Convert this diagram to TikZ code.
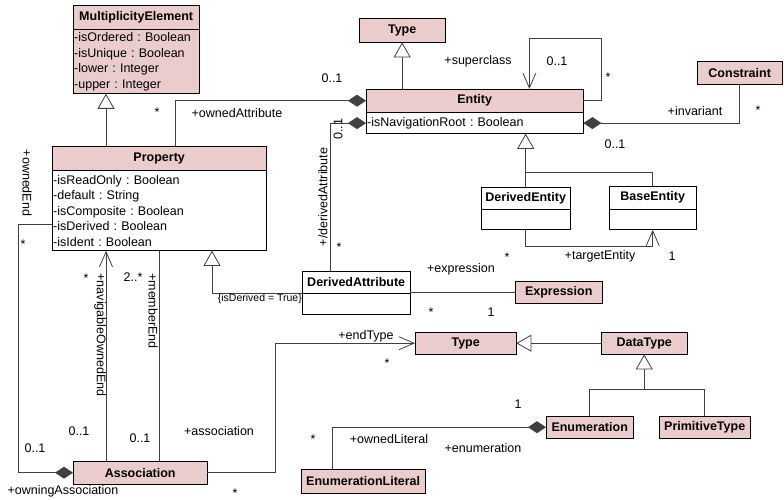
\documentclass[tikz,border=0pt]{standalone}
\usepackage{fontspec}
\setmainfont{Liberation Sans}
\usetikzlibrary{arrows.meta,positioning}

\definecolor{classpink}{RGB}{235,204,204}

\tikzset{
  classhead/.style={draw, fill=classpink, font=\fontsize{12.5}{15.5}\selectfont\bfseries,
    inner sep=0pt, anchor=north west},
  classbody/.style={draw, fill=white, anchor=north, inner xsep=1pt, inner ysep=0pt, align=left},
  lbl/.style={inner sep=0pt},
  tag/.style={inner sep=0pt, font=\fontsize{10.5}{12}\selectfont},
  conn/.style={draw=black!75, line width=0.8pt},
  gen/.style={conn, -{Triangle[open,length=15pt,width=17pt]}},
  nav/.style={conn, -{Straight Barb[length=15pt,width=13pt]}},
  comp/.style={conn, -{Diamond[length=18pt,width=12pt]}},
}

\begin{document}
\frenchspacing
\begin{tikzpicture}[x=1pt,y=-1pt,font=\fontsize{12.5}{15.5}\selectfont]
  \useasboundingbox (0,0) rectangle (784,500);

  % classes
  \node[classhead, minimum width=126, minimum height=24] (mult) at (73,5) {MultiplicityElement};
  \node[classbody, fill=classpink, text width=124pt, minimum height=64] (multAttr) at (mult.south)
    {-isOrdered : Boolean\\-isUnique : Boolean\\-lower : Integer\\-upper : Integer};

  \node[classhead, minimum width=86, minimum height=24] (typeTop) at (359,18) {Type};

  \node[classhead, minimum width=217, minimum height=23] (entity) at (366,89) {Entity};
  \node[classbody, text width=215pt, minimum height=21] (entityAttr) at (entity.south)
    {-isNavigationRoot : Boolean};

  \node[classhead, minimum width=85, minimum height=23] (constraint) at (697,61) {Constraint};

  \node[classhead, minimum width=214, minimum height=24] (prop) at (52,146) {Property};
  \node[classbody, text width=212pt, minimum height=80] (propAttr) at (prop.south)
    {-isReadOnly : Boolean\\-default : String\\-isComposite : Boolean\\-isDerived : Boolean\\-isIdent : Boolean};

  \node[classhead, fill=white, minimum width=89, minimum height=22] (dentity) at (481,187) {DerivedEntity};
  \node[classbody, text width=87pt, minimum height=20] (dentityAttr) at (dentity.south) {};

  \node[classhead, fill=white, minimum width=87, minimum height=23] (bentity) at (609,186) {BaseEntity};
  \node[classbody, text width=85pt, minimum height=20] (bentityAttr) at (bentity.south) {};

  \node[classhead, fill=white, minimum width=108, minimum height=22] (dattr) at (302,271) {DerivedAttribute};
  \node[classbody, text width=106pt, minimum height=21] (dattrAttr) at (dattr.south) {};

  \node[classhead, minimum width=87, minimum height=22] (expr) at (515,281) {Expression};
  \node[classhead, minimum width=101, minimum height=22] (typeLow) at (415,332) {Type};
  \node[classhead, minimum width=86, minimum height=22] (datatype) at (601,332) {DataType};
  \node[classhead, minimum width=87, minimum height=22] (enum) at (546,416) {Enumeration};
  \node[classhead, minimum width=91, minimum height=22] (prim) at (659,416) {PrimitiveType};
  \node[classhead, minimum width=124, minimum height=24] (enumlit) at (301,469) {EnumerationLiteral};
  \node[classhead, minimum width=134, minimum height=23] (assoc) at (73,461) {Association};

  % generalizations
  \draw[gen] ([xshift=54pt]prop.north west) -- ([xshift=54pt]prop.north west |- multAttr.south);
  \draw[gen] (entity.north -| typeTop.south) -- (typeTop.south);
  \draw[gen] (dentity.north) -- (dentity.north |- entityAttr.south);
  \draw[conn] (bentity.north) |- ([yshift=15pt]dentity.north);
  \draw[gen] (dattr.south west) -| ([xshift=160pt]propAttr.south west);
  \draw[gen] (datatype.west) -- (typeLow.east);
  \draw[gen] (enum.north) |- ([yshift=-35pt]datatype.south) -- (datatype.south);
  \draw[conn] (prim.north) |- ([yshift=-35pt]datatype.south);

  % associations
  \draw[comp] ([xshift=123pt]prop.north west) |- (entity.west);
  \draw[nav] (entity.east) -| ([xshift=18pt,yshift=51pt]entity.north east)
    -| ([xshift=-54pt]entity.north east);
  \draw[comp] ([xshift=28pt]dattr.north west) |- (entityAttr.west);
  \draw[comp] (constraint.south) |- (entityAttr.east);
  \draw[nav] (dentityAttr.south) -- ++(0,17) -| (bentityAttr.south);
  \draw[conn] (expr.west) -- (expr.west -| dattr.east);
  \draw[comp] ([yshift=26pt]propAttr.south west) -- ++(-34,0) |- (assoc.west);
  \draw[nav] ([xshift=33pt]assoc.north west) -- ([xshift=33pt]assoc.north west |- propAttr.south);
  \draw[conn] ([xshift=86pt]assoc.north west) -- ([xshift=86pt]assoc.north west |- propAttr.south);
  \draw[nav] (assoc.east) -- ++(68,0) |- (typeLow.west);
  \draw[comp] ([xshift=31pt]enumlit.north west) |- (enum.west);

  % role names and multiplicities
  \node[lbl] (mOwnAttr) at (157,112) {*};
  \node[lbl] (rOwnAttr) at (237,113) {+ownedAttribute};
  \node[lbl] (mOwnAttrE) at (332,78) {0..1};
  \node[lbl] (rSuper) at (478,61) {+superclass};
  \node[lbl] (mSuper) at (557,61) {0..1};
  \node[lbl] (mSub) at (608,77) {*};
  \node[lbl] (rInv) at (695,111) {+invariant};
  \node[lbl] (mInv) at (758,110) {*};
  \node[lbl] (mInvE) at (615,144) {0..1};
  \node[lbl, rotate=90] (rDAttr) at (323,197) {+/derivedAttribute};
  \node[lbl, rotate=90] (mDAttrE) at (338,129) {0..1};
  \node[lbl] (mDAttr) at (339,247) {*};
  \node[lbl] (mTarget) at (507,257) {*};
  \node[lbl] (rTarget) at (600,256) {+targetEntity};
  \node[lbl] (mTargetE) at (672,256) {1};
  \node[tag, anchor=north east] (tDerived) at (dattr.south west) {\{isDerived = True\}};
  \node[lbl] (rExpr) at (461,269) {+expression};
  \node[lbl] (mExpr) at (431,312) {*};
  \node[lbl] (mExprE) at (491,312) {1};
  \node[lbl, rotate=-90] (rOwnedEnd) at (27,183) {+ownedEnd};
  \node[lbl] (mOwnedEnd) at (23,244) {*};
  \node[lbl] (mOwnedEndA) at (35,448) {0..1};
  \node[lbl] (rOwningA) at (63,491) {+owningAssociation};
  \node[lbl, rotate=-90] (rNavEnd) at (100,335) {+navigableOwnedEnd};
  \node[lbl] (mNavEnd) at (86,278) {*};
  \node[lbl] (mNavEndA) at (79,431) {0..1};
  \node[lbl, rotate=-90] (rMember) at (153,311) {+memberEnd};
  \node[lbl] (mMember) at (133,277) {2..*};
  \node[lbl] (mMemberA) at (140,438) {0..1};
  \node[lbl] (rAssoc) at (219,431) {+association};
  \node[lbl] (mAssoc) at (235,493) {*};
  \node[lbl] (rEndType) at (366,336) {+endType};
  \node[lbl] (mEndType) at (387,363) {*};
  \node[lbl] (mEnumE) at (518,404) {1};
  \node[lbl] (mLiteral) at (313,439) {*};
  \node[lbl] (rLiteral) at (389,439) {+ownedLiteral};
  \node[lbl] (rEnum) at (483,448) {+enumeration};
\end{tikzpicture}
\end{document}
